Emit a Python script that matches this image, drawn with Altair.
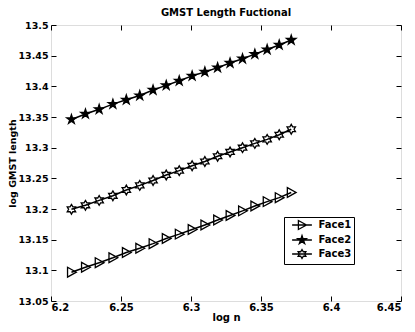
import altair as alt
import pandas as pd

# ---- data ----
log_n = [6.2146, 6.2246, 6.2344, 6.2442, 6.2538, 6.2634, 6.2729, 6.2823, 6.2916,
         6.3008, 6.3099, 6.3190, 6.3279, 6.3368, 6.3456, 6.3544, 6.3630, 6.3716]
face1 = [13.097, 13.105, 13.1125, 13.1205, 13.129, 13.136, 13.1435, 13.152, 13.159,
         13.1665, 13.174, 13.182, 13.1895, 13.197, 13.205, 13.212, 13.2185, 13.227]
face2 = [13.346, 13.355, 13.3625, 13.371, 13.378, 13.385, 13.394, 13.4015, 13.409,
         13.417, 13.4235, 13.4305, 13.438, 13.445, 13.4525, 13.460, 13.4675, 13.4755]
face3 = [13.1995, 13.206, 13.214, 13.2215, 13.231, 13.2385, 13.2465, 13.2555, 13.2625,
         13.2705, 13.2775, 13.286, 13.293, 13.300, 13.307, 13.3135, 13.321, 13.330]
series_names = ["Face1", "Face2", "Face3"]
x_ticks = [6.2, 6.25, 6.3, 6.35, 6.4, 6.45]
y_ticks = [13.05, 13.1, 13.15, 13.2, 13.25, 13.3, 13.35, 13.4, 13.45, 13.5]

rows = []
for name, vals in zip(series_names, [face1, face2, face3]):
    for xv, yv in zip(log_n, vals):
        rows.append({"series": name, "x": xv, "y": yv})
df = pd.DataFrame(rows)

FONT = "DejaVu Sans"
TRI = "M-0.8,-1L1,0L-0.8,1Z"
STAR5 = ("M0,-1L0.2245,-0.309L0.9511,-0.309L0.3633,0.118L0.5878,0.809L0,0.382"
         "L-0.5878,0.809L-0.3633,0.118L-0.9511,-0.309L-0.2245,-0.309Z")
STAR6 = ("M0,-1L0.2887,-0.5L0.866,-0.5L0.577,0L0.866,0.5L0.2887,0.5L0,1"
         "L-0.2887,0.5L-0.866,0.5L-0.577,0L-0.866,-0.5L-0.2887,-0.5Z")
STUB = "M-2.2,0L2.2,0"
FILLS = ["transparent", "black", "transparent"]
STROKES = ["black", "black", "black"]

xscale = alt.Scale(domain=[6.2, 6.45], nice=False, zero=False)
yscale = alt.Scale(domain=[13.05, 13.5], nice=False, zero=False)

axis_common = dict(labelFont=FONT, labelFontWeight="bold",
                   labelColor="black", titleFont=FONT,
                   titleFontWeight="bold", titleColor="black", tickColor="black",
                   tickWidth=1, tickSize=5, offset=-5, domain=False, grid=False,
                   labelOverlap=False, format="~g")

legend = alt.Legend(
    title=None, orient="none", legendX=233, legendY=192,
    strokeColor="black", fillColor="white", padding=2.5,
    symbolSize=81, symbolStrokeWidth=1.3, symbolStrokeColor="black",
    symbolOffset=10, labelOffset=11, rowPadding=0,
    labelFont=FONT, labelFontSize=10, labelFontWeight="bold", labelColor="black",
    labelExpr="datum.label + '\u00a0'",
)

lines = alt.Chart(df).mark_line(color="black", strokeWidth=1.5).encode(
    x=alt.X("x:Q", scale=xscale,
            axis=alt.Axis(orient="bottom", values=x_ticks, title="log n",
                          labelFontSize=10, titleFontSize=10,
                          labelPadding=1, titlePadding=0, **axis_common)),
    y=alt.Y("y:Q", scale=yscale,
            axis=alt.Axis(orient="left", values=y_ticks, title="log GMST length",
                          labelFontSize=9.5, titleFontSize=9.5,
                          labelPadding=3, titlePadding=0.5, **axis_common)),
    detail="series:N",
)

points = alt.Chart(df).mark_point(stroke="black", strokeWidth=1.3, size=95,
                                  opacity=1).encode(
    x=alt.X("x:Q", scale=xscale,
            axis=alt.Axis(orient="top", values=x_ticks, labels=False, title=None,
                          **axis_common)),
    y=alt.Y("y:Q", scale=yscale,
            axis=alt.Axis(orient="right", values=y_ticks, labels=False, title=None,
                          **axis_common)),
    shape=alt.Shape("series:N", scale=alt.Scale(domain=series_names,
                                                range=[TRI, STAR5, STAR6]),
                    legend=None),
    fill=alt.Fill("series:N", scale=alt.Scale(domain=series_names, range=FILLS),
                  legend=None),
)

# legend-only layer (no marks drawn): symbols are line stub + marker
legend_layer = alt.Chart(df).transform_filter("false").mark_point(
    strokeWidth=1.3, opacity=1).encode(
    x=alt.X("x:Q", scale=xscale, axis=None),
    y=alt.Y("y:Q", scale=yscale, axis=None),
    shape=alt.Shape("series:N", scale=alt.Scale(
        domain=series_names,
        range=[STUB + TRI, STUB + STAR5, STUB + STAR6]), legend=legend),
    fill=alt.Fill("series:N", scale=alt.Scale(domain=series_names, range=FILLS),
                  legend=legend),
    stroke=alt.Stroke("series:N", scale=alt.Scale(domain=series_names, range=STROKES),
                      legend=legend),
)

chart = alt.layer(lines, points, legend_layer).resolve_axis(
    x="independent", y="independent"
).resolve_scale(shape="independent", fill="independent", stroke="independent").properties(
    width=350, height=276,
    autosize=alt.AutoSizeParams(type="none"),
    padding={"left": 43, "top": 17, "right": 6, "bottom": 23},
    title=alt.TitleParams("GMST Length Fuctional", font=FONT, fontSize=10,
                          fontWeight="bold", color="black", anchor="middle",
                          offset=8, dy=6),
).configure_view(stroke="black", strokeWidth=1.5).configure(background="white")

chart.save("out.html", embed_options={"renderer": "svg", "actions": False})
